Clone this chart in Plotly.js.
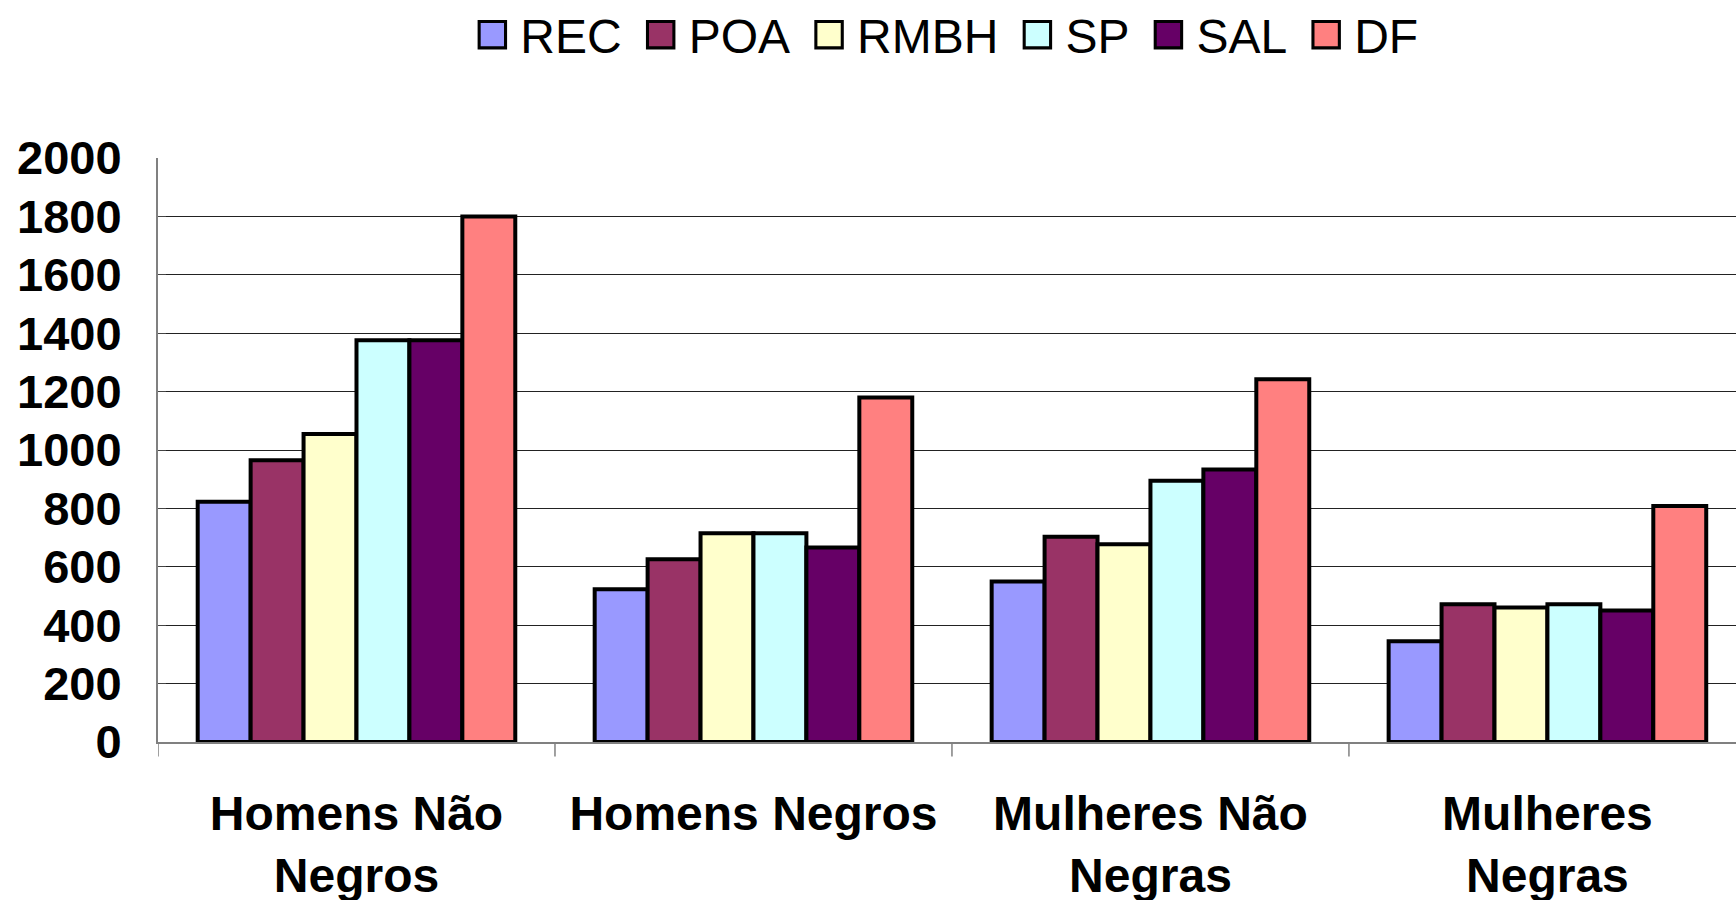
<!DOCTYPE html>
<html>
<head>
<meta charset="utf-8">
<script src="https://cdn.plot.ly/plotly-3.0.1.min.js"></script>
<style>
  html, body { margin: 0; padding: 0; background: #fff; overflow: hidden; }
  #chart { width: 1736px; height: 900px; }
</style>
</head>
<body>
<div id="chart"></div>
<script>
const categories = ["Homens Não<br>Negros", "Homens Negros", "Mulheres Não<br>Negras", "Mulheres<br>Negras"];
const seriesNames = ["REC", "POA", "RMBH", "SP", "SAL", "DF"];
const REC  = [823, 523, 550, 345];
const POA  = [965, 626, 703, 472];
const RMBH = [1055, 715, 677, 461];
const SP   = [1376, 715, 895, 472];
const SAL  = [1376, 666, 933, 450];
const DF   = [1800, 1180, 1242, 808];
const seriesColors = ["#9999FF", "#993366", "#FFFFCC", "#CCFFFF", "#660066", "#FF8080"];
const yTicks = [0, 200, 400, 600, 800, 1000, 1200, 1400, 1600, 1800, 2000];

const values = [REC, POA, RMBH, SP, SAL, DF];
const FONT = '"Liberation Sans", Arial, Helvetica, sans-serif';

const data = seriesNames.map((name, i) => ({
  type: 'bar',
  name: name,
  x: [0, 1, 2, 3],
  y: values[i],
  marker: { color: seriesColors[i], line: { color: '#000', width: 4 } },
  hoverinfo: 'skip'
}));

const layout = {
  width: 1736,
  height: 900,
  margin: { l: 158, r: 0, t: 158, b: 158, pad: 0 },
  paper_bgcolor: '#fff',
  plot_bgcolor: '#fff',
  font: { family: FONT, color: '#000' },
  barmode: 'group',
  bargap: 0.2,
  bargroupgap: 0,
  showlegend: true,
  legend: {
    orientation: 'h',
    x: 0.498, xanchor: 'center',
    y: 1.0, yref: 'container', yanchor: 'top',
    font: { size: 48, family: FONT, color: '#000' },
    itemwidth: 30,
    traceorder: 'normal',
    bgcolor: 'rgba(0,0,0,0)'
  },
  xaxis: {
    type: 'linear',
    range: [-0.5, 3.475],
    tickmode: 'array',
    tickvals: [0, 1, 2, 3],
    ticktext: categories,
    showgrid: false,
    zeroline: false,
    showline: true,
    linecolor: '#808080',
    linewidth: 2,
    ticks: '',
    tickfont: { size: 48, family: FONT, color: '#000', weight: 'bold' },
    ticklabelstandoff: 28
  },
  yaxis: {
    range: [0, 2000],
    tickmode: 'array',
    tickvals: yTicks,
    ticktext: yTicks.map(String),
    showgrid: true,
    gridcolor: '#222',
    gridwidth: 1,
    zeroline: false,
    showline: true,
    linecolor: '#808080',
    linewidth: 2,
    ticks: 'inside',
    ticklen: 8,
    tickcolor: '#444',
    tickfont: { size: 47, family: FONT, color: '#000', weight: 'bold' },
    ticklabelstandoff: 25
  },
  shapes: [0, 1, 2, 3, 4].map(k => ({
    type: 'line', xref: 'x', yref: 'paper',
    x0: k - 0.5, x1: k - 0.5, y0: 0, y1: -0.025,
    line: { color: '#808080', width: 1.5 }
  }))
};

Plotly.newPlot('chart', data, layout, { staticPlot: true, displayModeBar: false }).then(gd => {
  const EXTRA = 22;
  const items = gd.querySelectorAll('.legend .traces');
  const n = items.length;
  items.forEach((g, i) => {
    const tr = g.getAttribute('transform') || 'translate(0,0)';
    const m = tr.match(/translate\(\s*([-\d.e]+)[ ,]+([-\d.e]+)\s*\)/);
    const x = m ? parseFloat(m[1]) : 0;
    const y = m ? parseFloat(m[2]) : 0;
    g.setAttribute('transform', 'translate(' + (x + i * EXTRA - (n - 1) * EXTRA / 2) + ',' + (y - 3) + ')');
    const p = g.querySelector('.legendpoints path');
    if (p) {
      p.setAttribute('transform', 'translate(20,0) scale(2.2)');
      p.style.strokeWidth = '1.4px';
      p.style.stroke = '#000';
    }
    const t = g.querySelector('.legendtext');
    if (t) t.setAttribute('transform', 'translate(8,0)');
  });
  const clip = gd.querySelectorAll('.legend .scrollbox, .legend');
  clip.forEach(el => el.removeAttribute('clip-path'));
});
</script>
</body>
</html>
